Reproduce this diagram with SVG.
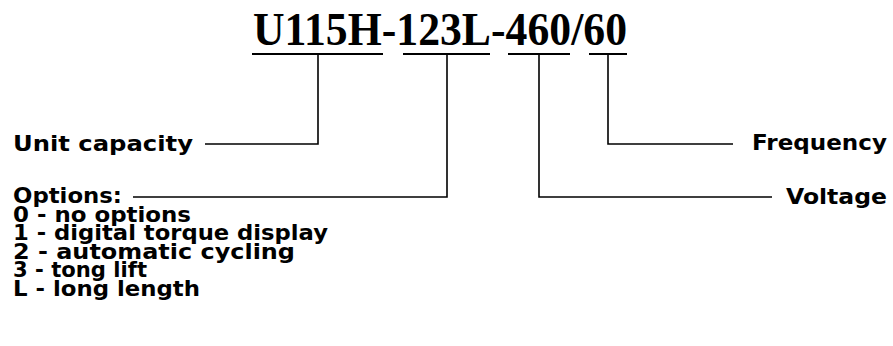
<svg xmlns="http://www.w3.org/2000/svg" width="893" height="346" viewBox="0 0 893 346">
<style>
.title{font-family:"Liberation Serif","Times New Roman",serif;font-weight:bold;font-size:47px;fill:#000}
.lbl{font-family:"DejaVu Sans","Liberation Sans",sans-serif;font-weight:bold;font-size:22px;fill:#000}
.ul{stroke:#000;stroke-width:2;fill:none}
.ln{stroke:#000;stroke-width:1.6;fill:none}
</style>
<rect width="893" height="346" fill="#fff"/>
<g id="code">
<text class="title" x="253" y="45" textLength="374" lengthAdjust="spacingAndGlyphs">U115H-123L-460/60</text>
<line class="ul" x1="252" y1="54" x2="383" y2="54"/>
<line class="ul" x1="403" y1="54" x2="490" y2="54"/>
<line class="ul" x1="508" y1="54" x2="570" y2="54"/>
<line class="ul" x1="589" y1="54" x2="627" y2="54"/>
</g>
<g id="connectors">
<polyline class="ln" points="318,54 318,144 205,144"/>
<polyline class="ln" points="447,54 447,197 133,197"/>
<polyline class="ln" points="539,54 539,197 772,197"/>
<polyline class="ln" points="608,54 608,144 733,144"/>
</g>
<g id="unit-capacity">
<text class="lbl" x="13" y="151" textLength="180" lengthAdjust="spacingAndGlyphs">Unit capacity</text>
</g>
<g id="options">
<text class="lbl" x="13" y="203" textLength="109" lengthAdjust="spacingAndGlyphs">Options:</text>
<text class="lbl" x="13" y="221.5" textLength="178" lengthAdjust="spacingAndGlyphs">0 - no options</text>
<text class="lbl" x="13" y="240" textLength="315" lengthAdjust="spacingAndGlyphs">1 - digital torque display</text>
<text class="lbl" x="13" y="258.5" textLength="282" lengthAdjust="spacingAndGlyphs">2 - automatic cycling</text>
<text class="lbl" x="13" y="277" textLength="134" lengthAdjust="spacingAndGlyphs">3 - tong lift</text>
<text class="lbl" x="13" y="295.5" textLength="187" lengthAdjust="spacingAndGlyphs">L - long length</text>
</g>
<g id="frequency">
<text class="lbl" x="752" y="150" textLength="135" lengthAdjust="spacingAndGlyphs">Frequency</text>
</g>
<g id="voltage">
<text class="lbl" x="786" y="204" textLength="101" lengthAdjust="spacingAndGlyphs">Voltage</text>
</g>
</svg>
